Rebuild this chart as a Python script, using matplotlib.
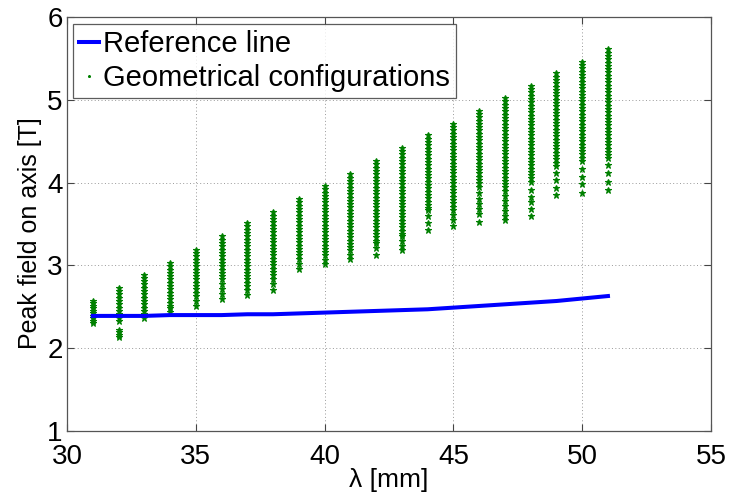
import numpy as np
import matplotlib
matplotlib.use('Agg')
import matplotlib.pyplot as plt

plt.rcParams['font.family'] = ['Liberation Sans', 'DejaVu Sans']

# reference line: peak field vs period
ref_lambda = [31, 32, 33, 34, 35, 36, 37, 38, 39, 40, 41, 42, 43, 44, 45, 46, 47, 48, 49, 50, 51]
ref_field = [2.39, 2.39, 2.39, 2.40, 2.40, 2.40, 2.41, 2.41, 2.42, 2.43, 2.44, 2.45, 2.46,
             2.47, 2.49, 2.51, 2.53, 2.55, 2.57, 2.60, 2.63]

# peak field of each geometrical configuration, grouped by period [mm]
cfg_lambda = [31, 32, 33, 34, 35, 36, 37, 38, 39, 40, 41, 42, 43, 44, 45, 46, 47, 48, 49, 50, 51]
b31 = [2.57, 2.54, 2.51, 2.48, 2.45, 2.42, 2.39, 2.36, 2.33, 2.30]
b32 = [2.73, 2.69, 2.65, 2.61, 2.57, 2.53, 2.49, 2.45, 2.41, 2.37, 2.33, 2.22, 2.19, 2.16, 2.13]
b33 = [2.89, 2.85, 2.81, 2.77, 2.73, 2.69, 2.65, 2.61, 2.57, 2.53, 2.49, 2.45, 2.41, 2.37]
b34 = [3.03, 2.99, 2.95, 2.91, 2.87, 2.83, 2.79, 2.75, 2.71, 2.67, 2.63, 2.59, 2.55, 2.51,
       2.48, 2.44]
b35 = [3.19, 3.15, 3.11, 3.07, 3.03, 2.99, 2.95, 2.91, 2.87, 2.83, 2.79, 2.75, 2.71, 2.67,
       2.63, 2.57, 2.51]
b36 = [3.35, 3.31, 3.27, 3.23, 3.19, 3.15, 3.11, 3.07, 3.03, 2.99, 2.95, 2.91, 2.87, 2.83,
       2.77, 2.71, 2.65, 2.59]
b37 = [3.51, 3.47, 3.43, 3.39, 3.35, 3.31, 3.27, 3.23, 3.19, 3.15, 3.11, 3.07, 3.03, 2.99,
       2.95, 2.91, 2.87, 2.83, 2.79, 2.75, 2.70, 2.64]
b38 = [3.64, 3.60, 3.56, 3.52, 3.48, 3.44, 3.40, 3.36, 3.32, 3.28, 3.24, 3.20, 3.16, 3.12,
       3.08, 3.04, 3.00, 2.96, 2.92, 2.88, 2.84, 2.77, 2.70]
b39 = [3.80, 3.76, 3.72, 3.68, 3.64, 3.60, 3.56, 3.52, 3.48, 3.44, 3.40, 3.36, 3.32, 3.28,
       3.24, 3.20, 3.16, 3.12, 3.08, 3.02, 2.96]
b40 = [3.96, 3.92, 3.88, 3.84, 3.80, 3.76, 3.72, 3.68, 3.64, 3.60, 3.56, 3.52, 3.48, 3.44,
       3.40, 3.36, 3.32, 3.28, 3.24, 3.20, 3.16, 3.13, 3.07, 3.02]
b41 = [4.10, 4.06, 4.02, 3.98, 3.94, 3.90, 3.86, 3.82, 3.78, 3.74, 3.70, 3.66, 3.62, 3.58,
       3.54, 3.50, 3.46, 3.42, 3.38, 3.34, 3.30, 3.26, 3.22, 3.19, 3.13, 3.08]
b42 = [4.26, 4.22, 4.18, 4.14, 4.10, 4.06, 4.02, 3.98, 3.94, 3.90, 3.86, 3.82, 3.78, 3.74,
       3.70, 3.66, 3.62, 3.58, 3.54, 3.50, 3.46, 3.42, 3.38, 3.34, 3.30, 3.27, 3.21, 3.12]
b43 = [4.42, 4.38, 4.34, 4.30, 4.26, 4.22, 4.18, 4.14, 4.10, 4.06, 4.02, 3.98, 3.94, 3.90,
       3.86, 3.82, 3.78, 3.74, 3.70, 3.66, 3.62, 3.58, 3.54, 3.50, 3.46, 3.42, 3.38, 3.35,
       3.29, 3.24, 3.18]
b44 = [4.57, 4.53, 4.49, 4.45, 4.41, 4.37, 4.33, 4.29, 4.25, 4.21, 4.17, 4.13, 4.09, 4.05,
       4.01, 3.97, 3.93, 3.89, 3.85, 3.81, 3.77, 3.73, 3.69, 3.67, 3.60, 3.51, 3.43]
b45 = [4.71, 4.67, 4.63, 4.59, 4.55, 4.51, 4.47, 4.43, 4.39, 4.35, 4.31, 4.27, 4.23, 4.19,
       4.15, 4.11, 4.07, 4.03, 3.99, 3.95, 3.91, 3.87, 3.83, 3.79, 3.75, 3.71, 3.67, 3.61,
       3.55, 3.47]
b46 = [4.87, 4.83, 4.79, 4.75, 4.71, 4.67, 4.63, 4.59, 4.55, 4.51, 4.47, 4.43, 4.39, 4.35,
       4.31, 4.27, 4.23, 4.19, 4.15, 4.11, 4.07, 4.03, 3.99, 3.95, 3.88, 3.80, 3.74, 3.68,
       3.62, 3.52]
b47 = [5.02, 4.98, 4.94, 4.90, 4.86, 4.82, 4.78, 4.74, 4.70, 4.66, 4.62, 4.58, 4.54, 4.50,
       4.46, 4.42, 4.38, 4.34, 4.30, 4.26, 4.22, 4.18, 4.14, 4.10, 4.06, 4.02, 3.98, 3.95,
       3.90, 3.84, 3.78, 3.72, 3.66, 3.60, 3.55]
b48 = [5.17, 5.13, 5.09, 5.05, 5.01, 4.97, 4.93, 4.89, 4.85, 4.81, 4.77, 4.73, 4.69, 4.65,
       4.61, 4.57, 4.53, 4.49, 4.45, 4.41, 4.37, 4.33, 4.29, 4.25, 4.21, 4.17, 4.13, 4.09,
       4.05, 4.01, 3.91, 3.83, 3.76, 3.68, 3.60]
b49 = [5.32, 5.28, 5.24, 5.20, 5.16, 5.12, 5.08, 5.04, 5.00, 4.96, 4.92, 4.88, 4.84, 4.80,
       4.76, 4.72, 4.68, 4.64, 4.60, 4.56, 4.52, 4.48, 4.44, 4.40, 4.36, 4.32, 4.28, 4.24,
       4.20, 4.11, 4.03, 3.94, 3.85]
b50 = [5.46, 5.42, 5.38, 5.34, 5.30, 5.26, 5.22, 5.18, 5.14, 5.10, 5.06, 5.02, 4.98, 4.94,
       4.90, 4.86, 4.82, 4.78, 4.74, 4.70, 4.66, 4.62, 4.58, 4.54, 4.50, 4.46, 4.42, 4.38,
       4.34, 4.30, 4.26, 4.17, 4.07, 3.98, 3.88]
b51 = [5.61, 5.57, 5.53, 5.49, 5.45, 5.41, 5.37, 5.33, 5.29, 5.25, 5.21, 5.17, 5.13, 5.09,
       5.05, 5.01, 4.97, 4.93, 4.89, 4.85, 4.81, 4.77, 4.73, 4.69, 4.65, 4.61, 4.57, 4.53,
       4.49, 4.45, 4.41, 4.37, 4.33, 4.30, 4.21, 4.11, 4.01, 3.91]

cfg_fields = [b31, b32, b33, b34, b35, b36, b37, b38, b39, b40, b41,
              b42, b43, b44, b45, b46, b47, b48, b49, b50, b51]

x_pts = np.concatenate([[lam] * len(b) for lam, b in zip(cfg_lambda, cfg_fields)])
y_pts = np.concatenate(cfg_fields)

fig = plt.figure(figsize=(7.32, 4.97), dpi=100)
ax = fig.add_axes([67 / 732, 1 - 431 / 497, 644 / 732, 414 / 497])

ax.plot(ref_lambda, ref_field, color='#0000ff', lw=2.9, label='Reference line', zorder=3)
ax.plot(x_pts, y_pts, linestyle='none', marker='*', ms=4.6, color='#008000',
        markeredgewidth=0.8, label='Geometrical configurations', zorder=2)

ax.set_xlim(30, 55)
ax.set_ylim(1, 6)
ax.set_xticks([30, 35, 40, 45, 50, 55])
ax.set_yticks([1, 2, 3, 4, 5, 6])
ax.tick_params(direction='in', top=True, right=True, length=5, width=0.8,
               labelsize=20, color='#444444')
ax.tick_params(axis='x', pad=9)
ax.tick_params(axis='y', pad=3)
for s in ax.spines.values():
    s.set_color('#555555')
    s.set_linewidth(0.9)

ax.grid(True, color='#999999', linestyle=(0, (1, 2.5)), linewidth=0.7)
ax.set_axisbelow(True)

ax.set_xlabel('λ [mm]', fontsize=19)
ax.xaxis.set_label_coords(0.5, -0.09)
ax.set_ylabel('Peak field on axis [T]', fontsize=18)
ax.yaxis.set_label_coords(-0.039, 0.478)

leg = ax.legend(loc='upper left', bbox_to_anchor=(0.009, 0.982), borderaxespad=0,
                fontsize=21, handlelength=0.7, handletextpad=0.15, markerscale=0.4,
                frameon=True, fancybox=False, borderpad=0.2, labelspacing=0.2)
leg.get_frame().set_edgecolor('#333333')
leg.get_frame().set_linewidth(0.9)

plt.savefig('out.png', dpi=100)
